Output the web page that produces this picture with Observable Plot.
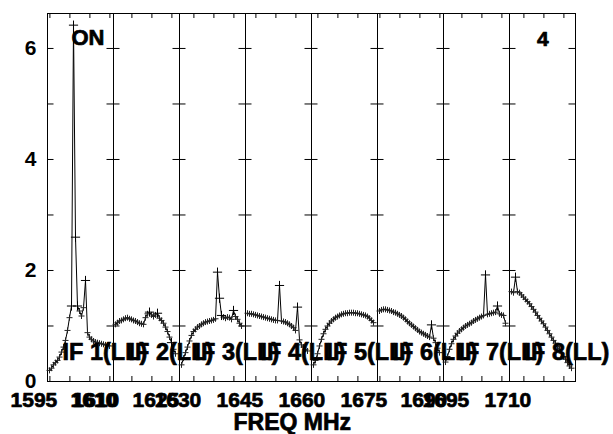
<!DOCTYPE html>
<html><head><meta charset="utf-8">
<script src="https://cdn.jsdelivr.net/npm/d3@7"></script>
<script src="https://cdn.jsdelivr.net/npm/@observablehq/plot@0.6"></script>
<style>body{margin:0;background:#fff} svg{display:block}</style>
</head><body><div id="chart"></div>
<script>
// ---- data ----
const ifNames = ["IF 1(LL)", "IF 2(LL)", "IF 3(LL)", "IF 4(LL)", "IF 5(LL)", "IF 6(LL)", "IF 7(LL)", "IF 8(LL)"];
const ifStartMHz = [1594.4, 1610.4, 1626.4, 1642.4, 1658.4, 1674.4, 1690.4, 1706.4];
const ifSpanMHz = 16.5;
// channel frequency offsets within each IF (MHz)
const chanOffsetMHz = [0.5, 1.0, 1.5, 2.0, 2.5, 3.0, 3.5, 4.0, 4.5, 5.0, 5.5, 6.0, 6.5, 7.0, 7.5, 8.0,
  8.5, 9.0, 9.5, 10.0, 10.5, 11.0, 11.5, 12.0, 12.5, 13.0, 13.5, 14.0, 14.5, 15.0, 15.5];
const if1 = [0.20, 0.24, 0.30, 0.34, 0.38, 0.44, 0.53, 0.62, 0.74, 0.92, 1.15, 1.36, 6.42, 2.60, 1.36, 1.27,
  1.18, 1.33, 1.82, 0.88, 0.80, 0.76, 0.73, 0.71, 0.70, 0.69, 0.68, 0.67, 0.66, 0.65, 0.64];
const if2 = [1.03, 1.06, 1.09, 1.10, 1.12, 1.14, 1.15, 1.13, 1.12, 1.10, 1.09, 1.07, 1.05, 1.04, 1.03, 1.15,
  1.22, 1.25, 1.20, 1.17, 1.20, 1.23, 1.14, 1.10, 1.05, 0.98, 0.90, 0.80, 0.70, 0.58, 0.50];
const if3 = [0.30, 0.42, 0.52, 0.62, 0.73, 0.83, 0.90, 0.94, 0.98, 1.00, 1.03, 1.05, 1.07, 1.08, 1.09, 1.10,
  1.11, 1.13, 1.97, 1.50, 1.19, 1.16, 1.14, 1.16, 1.15, 1.12, 1.28, 1.17, 1.12, 1.05, 1.00];
const if4 = [1.23, 1.22, 1.22, 1.21, 1.20, 1.19, 1.18, 1.17, 1.16, 1.15, 1.14, 1.13, 1.12, 1.11, 1.10, 1.10,
  1.73, 1.09, 1.08, 1.07, 1.05, 1.03, 1.00, 0.97, 0.92, 1.34, 0.75, 0.66, 0.62, 0.58, 0.55];
const if5 = [0.30, 0.38, 0.50, 0.64, 0.76, 0.86, 0.94, 1.00, 1.05, 1.09, 1.12, 1.15, 1.17, 1.19, 1.21, 1.22,
  1.23, 1.23, 1.24, 1.24, 1.24, 1.23, 1.23, 1.22, 1.21, 1.20, 1.19, 1.17, 1.14, 1.10, 1.06];
const if6 = [1.27, 1.29, 1.30, 1.30, 1.29, 1.28, 1.27, 1.25, 1.24, 1.22, 1.20, 1.18, 1.15, 1.12, 1.08, 1.05,
  1.02, 0.99, 0.96, 0.93, 0.90, 0.88, 0.86, 0.84, 0.82, 0.80, 1.02, 0.78, 0.70, 0.60, 0.52];
const if7 = [0.35, 0.45, 0.58, 0.68, 0.76, 0.82, 0.87, 0.91, 0.94, 0.97, 1.00, 1.02, 1.04, 1.06, 1.09, 1.11,
  1.13, 1.15, 1.17, 1.19, 1.92, 1.21, 1.22, 1.23, 1.24, 1.25, 1.36, 1.22, 1.20, 1.19, 1.05];
const if8 = [1.62, 1.60, 1.88, 1.62, 1.60, 1.56, 1.52, 1.48, 1.44, 1.40, 1.35, 1.30, 1.25, 1.19, 1.14, 1.09,
  1.04, 0.98, 0.92, 0.86, 0.80, 0.74, 0.69, 0.63, 0.57, 0.51, 0.45, 0.40, 0.34, 0.28, 0.24];
// channels with large error crosses
const noisyChannels = [[11, 12, 13, 14, 18], [17, 21, 28], [18, 19, 20, 26], [16, 25], [], [26], [20, 26], [2]];
// frequency axis ticks (MHz) per IF panel, and labelled ones
const tickMHz = [[1595, 1600, 1605, 1610], [1615, 1620, 1625], [1630, 1635, 1640], [1645, 1650, 1655],
  [1660, 1665, 1670], [1675, 1680, 1685, 1690], [1695, 1700, 1705], [1710, 1715, 1720]];
const labelMHz = [[1595, 1610], [1610, 1625], [1630], [1645], [1660], [1675, 1690], [1695], [1710]];
const yTicks = [1, 2, 3, 4, 5, 6];
const yLabels = [0, 2, 4, 6];
const yMax = 6.63;

// ---- build tables ----
const series = [if1, if2, if3, if4, if5, if6, if7, if8];
const rows = series.flatMap((vals, p) => vals.map((v, i) => ({panel: p, off: chanOffsetMHz[i], v, big: noisyChannels[p].includes(i)})));
const ticks = tickMHz.flatMap((fs, p) => fs.map(f => ({panel: p, off: f - ifStartMHz[p]})));
const labels = labelMHz.flatMap((fs, p) => fs.map(f => ({panel: p, off: f - ifStartMHz[p], text: String(f)})));
const ifLabels = ifNames.map((t, p) => ({panel: p, text: t}));
const panels = ifNames.map((_, p) => p);

const cross = {draw(ctx, size) { const r = Math.sqrt(size / Math.PI); ctx.moveTo(-r, 0); ctx.lineTo(r, 0); ctx.moveTo(0, -r); ctx.lineTo(0, r); }};

const W = 613, H = 434, mL = 45, mR = 36, mT = 13, mB = 53;
const innerH = H - mT - mB;
const panelW = (W - mL - mR) / 8;
const font = "'Liberation Sans', Arial, Helvetica, sans-serif";
const heavy = {fontWeight: "bold", fill: "#000", stroke: "#000", strokeWidth: 0.7};

const chart = Plot.plot({
  width: W, height: H,
  marginLeft: mL, marginRight: mR, marginTop: mT, marginBottom: mB,
  style: {fontFamily: font, fontWeight: "bold", background: "#fff", color: "#000"},
  fx: {domain: panels, padding: 0, axis: null},
  x: {domain: [0, ifSpanMHz], axis: null},
  y: {domain: [0, yMax], axis: null},
  marks: [
    Plot.frame({stroke: "#000", strokeWidth: 1}),
    Plot.ruleX(ticks, {fx: "panel", x: "off", insetTop: innerH - 5, stroke: "#000"}),
    Plot.ruleX(ticks, {fx: "panel", x: "off", insetBottom: innerH - 5, stroke: "#000"}),
    Plot.ruleY(yTicks, {y: d => d, insetRight: panelW - 7, stroke: "#000"}),
    Plot.ruleY(yTicks, {y: d => d, insetLeft: panelW - 7, stroke: "#000"}),
    Plot.axisY({ticks: yLabels, tickFormat: d => String(d), tickSize: 0, tickPadding: 11, fontSize: 21, label: null, ...heavy}),
    Plot.line(rows, {fx: "panel", x: "off", y: "v", stroke: "#000", strokeWidth: 1}),
    Plot.dot(rows.filter(d => !d.big), {fx: "panel", x: "off", y: "v", symbol: cross, r: 3, stroke: "#222", strokeWidth: 1, fill: "none"}),
    Plot.dot(rows.filter(d => d.big), {fx: "panel", x: "off", y: "v", symbol: cross, r: 4.6, stroke: "#000", strokeWidth: 1, fill: "none"}),
    Plot.text(labels, {fx: "panel", x: "off", text: "text", frameAnchor: "bottom", lineAnchor: "top", dy: 11, dx: -16, fontSize: 21, ...heavy}),
    Plot.text(ifLabels, {fx: "panel", text: "text", frameAnchor: "bottom-left", textAnchor: "start", lineAnchor: "top", dx: 15, dy: -38, fontSize: 23.5, ...heavy}),
    Plot.text([{panel: 0, text: "ON"}], {fx: "panel", text: "text", frameAnchor: "top-left", textAnchor: "start", lineAnchor: "top", dx: 24, dy: 16, fontSize: 22, ...heavy}),
    Plot.text([{panel: 7, text: "4"}], {fx: "panel", text: "text", frameAnchor: "top-left", textAnchor: "start", lineAnchor: "top", dx: 27.5, dy: 18, fontSize: 21, ...heavy}),
    Plot.text([{panel: 3, off: 11.7, text: "FREQ MHz"}], {fx: "panel", x: "off", text: "text", frameAnchor: "bottom", lineAnchor: "top", dy: 32, fontSize: 23, ...heavy})
  ]
});
document.getElementById("chart").appendChild(chart);
</script>
</body></html>
